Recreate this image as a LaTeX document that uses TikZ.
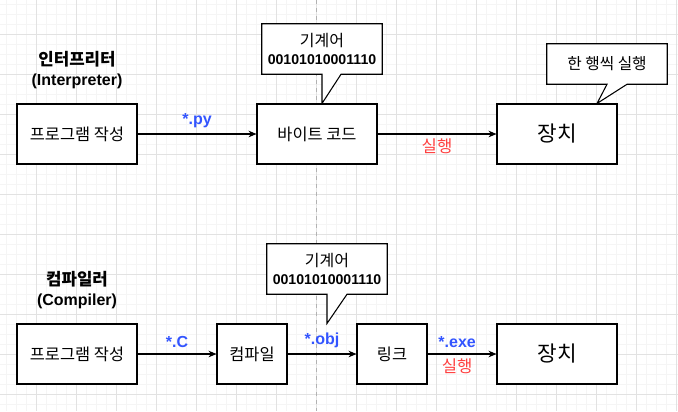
\documentclass[tikz,border=0pt]{standalone}
\usepackage{fontspec}
\setmainfont{Liberation Sans}
\newfontfamily\kr{Noto Sans CJK KR}
\usetikzlibrary{arrows.meta}

\definecolor{extblue}{RGB}{51,85,255}
\definecolor{runred}{RGB}{255,64,64}
\definecolor{gridmajor}{RGB}{226,226,226}
\definecolor{gridminor}{RGB}{245,245,245}

\pgfdeclarelayer{background}
\pgfsetlayers{background,main}

\tikzstyle{block} = [rectangle, draw, line width=0.8pt, fill=white, text centered, minimum width=90pt, minimum height=45pt, font=\kr\fontsize{12.3}{14}\selectfont]
\tikzstyle{smallblock} = [block, minimum width=52.5pt]
\tikzstyle{device} = [block, font=\kr\fontsize{16}{19}\selectfont]
\tikzstyle{title} = [align=center, font=\bfseries\fontsize{12}{15}\selectfont]
\tikzstyle{ext} = [text=extblue, font=\bfseries\fontsize{12}{14}\selectfont, yshift=1pt]
\tikzstyle{run} = [text=runred, font=\kr\fontsize{12.5}{14}\selectfont]
\tikzstyle{note} = [rectangle, align=center, minimum width=90pt, minimum height=37.5pt, font=\bfseries\fontsize{10.6}{13.5}\selectfont]
\tikzstyle{noteline} = [draw, line width=0.8pt, fill=white]
\tikzstyle{flow} = [draw, line width=0.8pt, -{Stealth[length=6pt,width=5pt]}]

\begin{document}
\begin{tikzpicture}[x=0.75pt, y=-0.75pt]
        \useasboundingbox (0,0) rectangle (678,411);
        % interpreter
        \node[block] (src1) at (77,134) {프로그램 작성};
        \node[block, right of=src1, node distance=180pt] (byte) {바이트 코드};
        \node[device, right of=byte, node distance=180pt] (dev1) {장치};
        \node[title, above of=src1, node distance=48pt] (interp) {{\kr\fontsize{12.6}{15}\selectfont 인터프리터}\\(Interpreter)};
        \node[note] (code1) at (322,49) {{\kr\mdseries\fontsize{12}{13.5}\selectfont 기계어}\\00101010001110};
        \node[note, minimum height=30pt, font=\kr\fontsize{11.8}{13}\selectfont] (line1) at (607,64) {한 행씩 실행};
        \draw[flow] (src1) -- node[ext, above] (py) {*.py} (byte);
        \draw[flow] (byte) -- node[run, below] (run1) {실행} (dev1);

        % compiler
        \node[block] (src2) at (77,354) {프로그램 작성};
        \node[smallblock, right of=src2, node distance=131.25pt] (compile) {컴파일};
        \node[smallblock, right of=compile, node distance=105pt] (link) {링크};
        \node[device, right of=link, node distance=123.75pt] (dev2) {장치};
        \node[title, above of=src2, node distance=48pt] (comp) {{\kr\fontsize{12.6}{15}\selectfont 컴파일러}\\(Compiler)};
        \node[note] (code2) at (327,269) {{\kr\mdseries\fontsize{12}{13.5}\selectfont 기계어}\\00101010001110};
        \draw[flow] (src2) -- node[ext, above] (cfile) {*.C} (compile);
        \draw[flow] (compile) -- node[ext, above] (obj) {*.obj} (link);
        \draw[flow] (link) -- node[ext, above, pos=0.43] (exe) {*.exe} node[run, below, pos=0.43] (run2) {실행} (dev2);

        \begin{pgfonlayer}{background}
        % grid
        \foreach \i in {0,...,68}
            \draw[gridminor, line width=0.5pt] (\i*10-3.3,0) -- (\i*10-3.3,411);
        \foreach \i in {0,...,41}
            \draw[gridminor, line width=0.5pt] (0,\i*10-5.7) -- (678,\i*10-5.7);
        \foreach \i in {0,...,17}
            \draw[gridmajor, line width=0.75pt] (\i*40-3.3,0) -- (\i*40-3.3,411);
        \foreach \i in {0,...,10}
            \draw[gridmajor, line width=0.75pt] (0,\i*40-5.7) -- (678,\i*40-5.7);
        \draw[gray!60, dashed, line width=0.75pt] (316.7,0) -- (316.7,411);
        % callouts
        \draw[noteline] (code1.north west) -| (code1.south east) -- ([xshift=14.25pt]code1.south) -- (code1.south |- byte.north) |- (code1.south west) -- cycle;
        \draw[noteline] (code2.north west) -| (code2.south east) -- ([xshift=15pt]code2.south) -- (code2.south |- compile.north) |- (code2.south west) -- cycle;
        \draw[noteline] (line1.north west) -| (line1.south east) -- ([xshift=15pt]line1.south) -- ([xshift=30pt]dev1.north) -- (line1.south) -- (line1.south west) -- cycle;
        \end{pgfonlayer}
\end{tikzpicture}
\end{document}
